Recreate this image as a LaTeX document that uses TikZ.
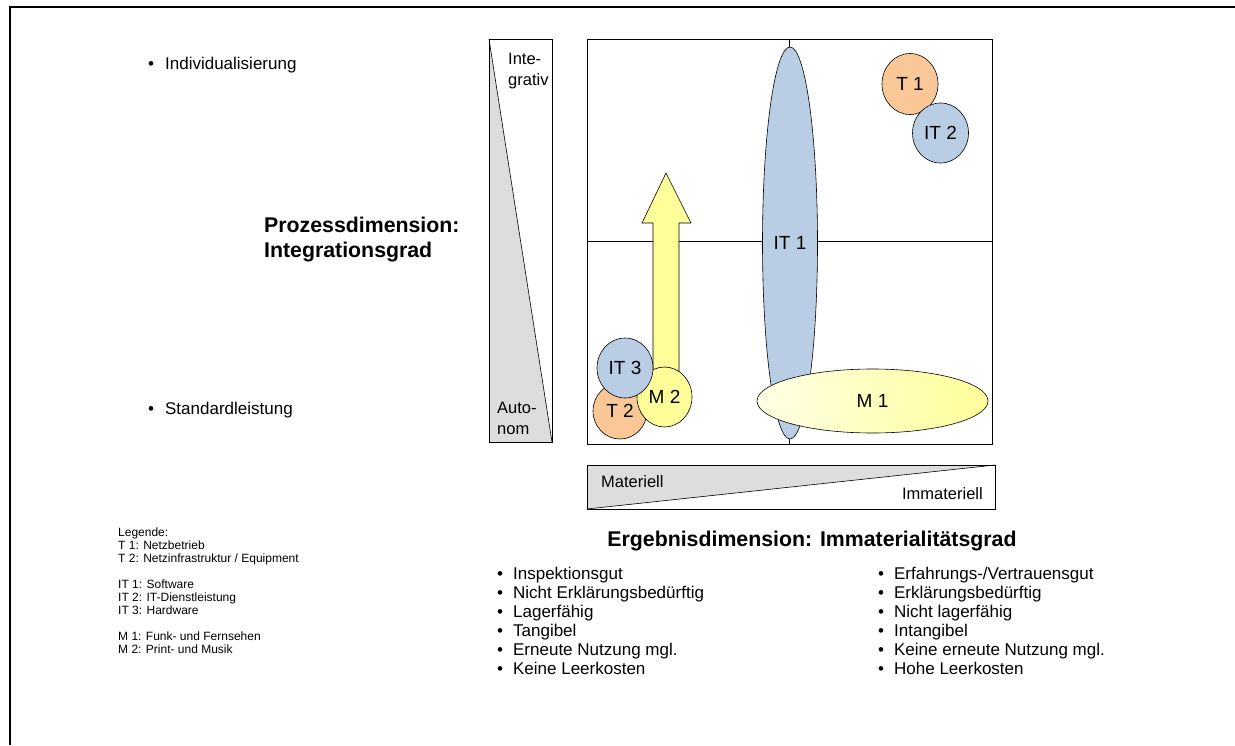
\documentclass[tikz,border=0pt]{standalone}
\usepackage{fontspec}
\setmainfont{Liberation Sans}
\usetikzlibrary{shapes.geometric}
\definecolor{cblue}{HTML}{B9CDE5}
\definecolor{corange}{HTML}{FAC896}
\definecolor{cyellow}{HTML}{FFFF99}
\definecolor{cpale}{HTML}{FFFFE6}
\definecolor{cgray}{HTML}{DDDDDD}
\begin{document}
\begin{tikzpicture}[x=1pt,y=-1pt,
  bubble/.style={ellipse, draw=black, line width=0.6pt, inner sep=0pt,
                 font=\fontsize{19}{21}\selectfont},
  bluebubble/.style={bubble, fill=cblue},
  orangebubble/.style={bubble, fill=corange},
  yellowbubble/.style={bubble, fill=cyellow},
  body/.style={inner sep=0pt, font=\fontsize{17}{19}\selectfont},
  small/.style={inner sep=0pt, align=left, font=\fontsize{12}{13}\selectfont},
  heading/.style={inner sep=0pt, align=left, font=\fontsize{21.3}{25}\selectfont\bfseries},
  barlabel/.style={inner sep=0pt, align=left, font=\fontsize{16.5}{21}\selectfont},
  thin/.style={line width=0.6pt}]
\useasboundingbox (0,0) rectangle (1235,745);

% page frame (top and left edge)
\draw[line width=1.6pt] (10,745) -- (10,7) -- (1235,7);

% side bullets
\node[body, anchor=base west] (bind) at (148,69) {\textbullet\hspace{11pt}Individualisierung};
\node[body, anchor=base west] (bstd) at (148,414) {\textbullet\hspace{11pt}Standardleistung};

% vertical axis title
\node[heading, anchor=west] (ytitle) at (264,240) {Prozessdimension:\\Integrationsgrad};

% vertical gradient bar
\fill[cgray] (489,39) -- (552,442) -- (489,442) -- cycle;
\draw[thin] (489,39) -- (552,442);
\draw[line width=0.8pt] (489,39) rectangle (552,442);
\node[barlabel, anchor=north west] (integ) at (508,53) {Inte-\\grativ};
\node[barlabel, anchor=south west] (auto) at (497,435) {Auto-\\nom};

% matrix
\draw[thin] (587,39) rectangle (992,444);
\draw[thin] (789,39) -- (789,444);
\draw[thin] (587,241) -- (992,241);

\node[bluebubble, minimum width=55pt, minimum height=392pt] (it1) at (790,243) {IT 1};

% upward arrow
\draw[thin, fill=cyellow] (653,372) -- (653,223) -- (642,223) -- (666,173)
  -- (691,223) -- (679,223) -- (679,372) -- cycle;

\node[orangebubble, minimum width=54pt, minimum height=56pt] (t2) at (620,411) {T 2};
\node[yellowbubble, minimum width=55pt, minimum height=60pt] (m2) at (664.5,397) {M 2};
\node[bluebubble, minimum width=56pt, minimum height=60pt] (it3) at (625,368) {IT 3};

\node[bubble, left color=cpale, right color=cyellow, minimum width=231pt,
      minimum height=64pt] (m1) at (872.5,401) {M 1};

\node[orangebubble, minimum width=56pt, minimum height=61pt] (t1) at (910,84) {T 1};
\node[bluebubble, minimum width=56pt, minimum height=60pt] (it2) at (940.5,133) {IT 2};

% horizontal gradient bar
\fill[cgray] (587,465) -- (995,465) -- (587,509) -- cycle;
\draw[thin] (587,509) -- (995,465);
\draw[line width=0.8pt] (587,465) rectangle (995,509);
\node[barlabel, anchor=west] (mat) at (601,482) {Materiell};
\node[barlabel, anchor=east] (immat) at (983,494) {Immateriell};

% horizontal axis title
\node[heading, anchor=center] (xtitle) at (812,541) {Ergebnisdimension: Immaterialitätsgrad};

% property lists
\node[body, anchor=north west] (left) at (497,566) {%
  \begin{tabular}{@{}l@{\hspace{10pt}}l@{}}
  \textbullet & Inspektionsgut\\
  \textbullet & Nicht Erklärungsbedürftig\\
  \textbullet & Lagerfähig\\
  \textbullet & Tangibel\\
  \textbullet & Erneute Nutzung mgl.\\
  \textbullet & Keine Leerkosten
  \end{tabular}};
\node[body, anchor=north west] (right) at (878,566) {%
  \begin{tabular}{@{}l@{\hspace{10pt}}l@{}}
  \textbullet & Erfahrungs-/Vertrauensgut\\
  \textbullet & Erklärungsbedürftig\\
  \textbullet & Nicht lagerfähig\\
  \textbullet & Intangibel\\
  \textbullet & Keine erneute Nutzung mgl.\\
  \textbullet & Hohe Leerkosten
  \end{tabular}};

% legend
\node[small, anchor=north west] (legend) at (118,528) {%
  Legende:\\
  T 1: Netzbetrieb\\
  T 2: Netzinfrastruktur / Equipment\\[13pt]
  IT 1: Software\\
  IT 2: IT-Dienstleistung\\
  IT 3: Hardware\\[13pt]
  M 1: Funk- und Fernsehen\\
  M 2: Print- und Musik};
\end{tikzpicture}
\end{document}
